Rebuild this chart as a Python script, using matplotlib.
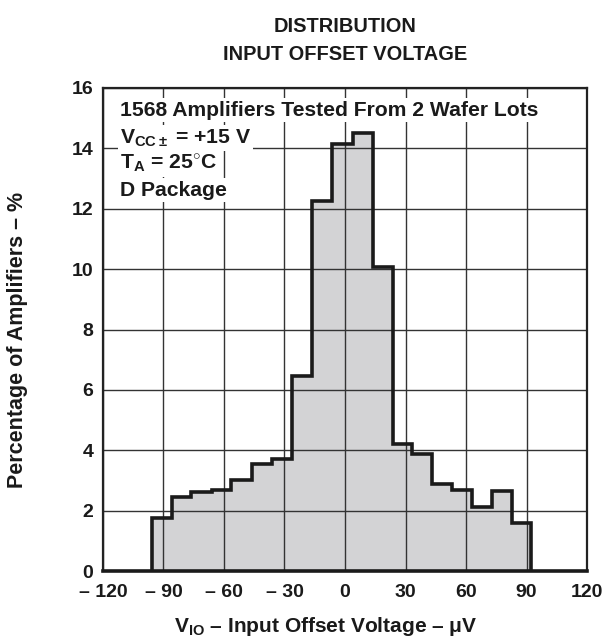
import matplotlib
matplotlib.use("Agg")
import matplotlib.pyplot as plt
from matplotlib import font_manager

plt.rcParams['font.family'] = ['Liberation Sans', 'DejaVu Sans']
plt.rcParams['font.weight'] = 'bold'
plt.rcParams['mathtext.fontset'] = 'custom'
plt.rcParams['mathtext.rm'] = 'Liberation Sans:bold'
plt.rcParams['mathtext.bf'] = 'Liberation Sans:bold'
plt.rcParams['mathtext.it'] = 'Liberation Sans:bold'

bin_edges = [-95.5, -86.0, -76.2, -66.1, -56.3, -46.2, -36.2, -26.3, -16.3, -6.4,
             3.8, 13.8, 23.6, 33.4, 43.2, 53.1, 63.1, 73.0, 82.7, 92.4]
percentages = [1.74, 2.44, 2.62, 2.70, 3.02, 3.55, 3.72, 6.45, 12.27, 14.15,
               14.51, 10.08, 4.21, 3.89, 2.89, 2.68, 2.13, 2.64, 1.60]
x_ticks = [-120, -90, -60, -30, 0, 30, 60, 90, 120]
x_tick_labels = ['\u2013 120', '\u2013 90', '\u2013 60', '\u2013 30', '0', '30', '60', '90', '120']
y_ticks = [0, 2, 4, 6, 8, 10, 12, 14, 16]

names = {f.name for f in font_manager.fontManager.ttflist}
if 'Liberation Sans Narrow' in names:
    title_family = ['Liberation Sans Narrow', 'DejaVu Sans']
    title_size = 17
else:
    title_family = ['Liberation Sans', 'DejaVu Sans']
    title_size = 14.4

fig = plt.figure(figsize=(6.09, 6.39), dpi=100)
ax = fig.add_axes([0.169, 0.1064, 0.795, 0.7559])

ax.stairs(percentages, bin_edges, baseline=0, fill=True, color='#d3d3d5', zorder=1)
ax.grid(True, color='#333333', linewidth=1.0)
ax.set_axisbelow(False)
for gl in ax.get_xgridlines() + ax.get_ygridlines():
    gl.set_zorder(1.5)
ax.stairs(percentages, bin_edges, baseline=0, fill=False, color='#1a1a1a',
          linewidth=2.6, zorder=3)

ax.set_xlim(-120, 120)
ax.set_ylim(0, 16)
ax.set_xticks(x_ticks)
ax.set_xticklabels(x_tick_labels)
ax.set_yticks(y_ticks)
ax.tick_params(length=0, labelsize=14)
ax.tick_params(axis='x', pad=9)
ax.tick_params(axis='y', pad=7)
for lab in ax.get_xticklabels() + ax.get_yticklabels():
    lab.set_fontweight('bold')
    lab.set_color('#1a1a1a')

for side in ['top', 'right', 'left']:
    ax.spines[side].set_linewidth(1.6)
    ax.spines[side].set_color('#222222')
ax.spines['bottom'].set_linewidth(2.6)
ax.spines['bottom'].set_color('#1a1a1a')
for s in ax.spines.values():
    s.set_zorder(4)

lines = [
    (110, '1568 Amplifiers Tested From 2 Wafer Lots'),
    (138, r'V$_{\mathbf{CC\pm}}$ = +15 V'),
    (164, r'T$_{\mathbf{A}}$ = 25$^{\circ}$C'),
    (190, 'D Package'),
]
for ypix, txt in lines:
    fig.text(120 / 609, 1 - ypix / 639, txt, fontsize=15.2, fontweight='bold',
             ha='left', va='center', color='#1a1a1a', zorder=5,
             bbox=dict(facecolor='white', edgecolor='none', pad=1.5))

fig.text(345 / 609, 1 - 32 / 639, 'DISTRIBUTION', fontsize=title_size, fontweight='bold',
         family=title_family, ha='center', va='baseline', color='#1a1a1a')
fig.text(345 / 609, 1 - 60 / 639, 'INPUT OFFSET VOLTAGE', fontsize=title_size,
         fontweight='bold', family=title_family, ha='center', va='baseline', color='#1a1a1a')

fig.text(326 / 609, 1 - 632 / 639, 'V$_{\\mathbf{IO}}$ \u2013 Input Offset Voltage \u2013 \u03bcV',
         fontsize=15, fontweight='bold', ha='center', va='baseline', color='#1a1a1a')
fig.text(18 / 609, 1 - 340 / 639, 'Percentage of Amplifiers \u2013 %', fontsize=15.5,
         fontweight='bold', ha='center', va='center', rotation=90, color='#1a1a1a')

fig.savefig('out.png', dpi=100)
